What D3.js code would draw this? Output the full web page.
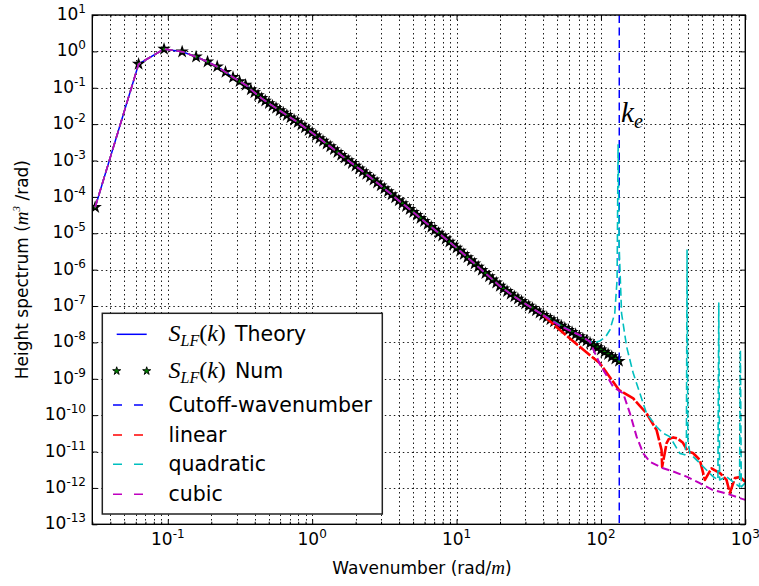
<!DOCTYPE html>
<html><head><meta charset="utf-8">
<script src="https://cdn.jsdelivr.net/npm/d3@7"></script>
<style>
  body { margin: 0; background: #fff; }
  text { font-family: "DejaVu Sans", sans-serif; fill: #000; }
  .math { font-family: "Liberation Serif", "DejaVu Serif", serif; font-style: italic; }
</style>
</head><body>
<svg id="chart" width="759" height="586"></svg>
<script>
// ---------- axis ticks ----------
const xTickValues = [0.1, 1, 10, 100, 1000];
const xTickExps = ["-1", "0", "1", "2", "3"];
const yTickValues = [1e1, 1e0, 1e-1, 1e-2, 1e-3, 1e-4, 1e-5, 1e-6, 1e-7, 1e-8, 1e-9, 1e-10, 1e-11, 1e-12, 1e-13];
const yTickExps = ["1", "0", "-1", "-2", "-3", "-4", "-5", "-6", "-7", "-8", "-9", "-10", "-11", "-12", "-13"];

// ---------- cutoff wavenumber ----------
const cutoffK = 134;

// ---------- theoretical spectrum S_LF(k) [k, S] ----------
const theory = [
  [0.0314, 5.2e-5], [0.0628, 0.45], [0.0942, 1.16], [0.1257, 0.98], [0.157, 0.71],
  [0.1885, 0.52], [0.22, 0.38], [0.251, 0.27], [0.283, 0.194], [0.314, 0.15],
  [0.346, 0.119], [0.398, 0.0741], [0.447, 0.0513], [0.501, 0.0372], [0.562, 0.0275],
  [0.631, 0.0204], [0.708, 0.0151], [0.794, 0.0112], [0.891, 0.00804], [1.0, 0.00575],
  [1.122, 0.00407], [1.259, 0.00288], [1.413, 0.00202], [1.585, 0.00141], [1.778, 0.001],
  [1.995, 7.08e-4], [2.512, 3.55e-4], [3.162, 1.70e-4], [3.981, 7.94e-5], [5.012, 3.80e-5],
  [6.31, 1.78e-5], [7.943, 8.51e-6], [10, 3.98e-6], [12.59, 1.78e-6], [15.85, 7.94e-7],
  [19.95, 3.55e-7], [25.12, 1.82e-7], [31.62, 1.0e-7], [39.81, 5.62e-8], [50.12, 3.24e-8],
  [63.1, 1.91e-8], [79.43, 1.10e-8], [100, 6.31e-9], [125.9, 3.55e-9], [133.4, 3.05e-9]
];

// ---------- numerical spectrum (star markers) [k, S] ----------
const numerical = [
  [0.0314, 5.2e-5], [0.0628, 0.45], [0.0942, 1.16], [0.1257, 0.98], [0.157, 0.71],
  [0.1885, 0.52], [0.22, 0.38], [0.251, 0.27], [0.283, 0.194], [0.314, 0.15], [0.346, 0.119],
  [0.376, 0.0887], [0.398, 0.0741], [0.422, 0.0617], [0.447, 0.0513], [0.473, 0.0437],
  [0.501, 0.0372], [0.531, 0.0320], [0.562, 0.0275], [0.596, 0.0237], [0.631, 0.0204],
  [0.668, 0.0176], [0.708, 0.0151], [0.750, 0.0130], [0.794, 0.0112], [0.841, 0.00955],
  [0.891, 0.00804], [0.944, 0.00676], [1.0, 0.00575], [1.059, 0.00484], [1.122, 0.00407],
  [1.189, 0.00343], [1.259, 0.00288], [1.334, 0.00242], [1.413, 0.00202], [1.496, 0.00169],
  [1.585, 0.00141], [1.679, 0.00119], [1.778, 0.00100], [1.884, 8.41e-4], [1.995, 7.08e-4],
  [2.113, 5.96e-4], [2.239, 5.01e-4], [2.371, 4.22e-4], [2.512, 3.55e-4], [2.661, 2.95e-4],
  [2.818, 2.45e-4], [2.985, 2.04e-4], [3.162, 1.70e-4], [3.350, 1.41e-4], [3.548, 1.16e-4],
  [3.758, 9.59e-5], [3.981, 7.94e-5], [4.217, 6.61e-5], [4.467, 5.50e-5], [4.732, 4.57e-5],
  [5.012, 3.80e-5], [5.309, 3.15e-5], [5.623, 2.60e-5], [5.957, 2.15e-5], [6.310, 1.78e-5],
  [6.683, 1.48e-5], [7.079, 1.23e-5], [7.499, 1.02e-5], [7.943, 8.51e-6], [8.414, 7.05e-6],
  [8.913, 5.82e-6], [9.441, 4.81e-6], [10.0, 3.98e-6], [10.59, 3.26e-6], [11.22, 2.66e-6],
  [11.89, 2.18e-6], [12.59, 1.78e-6], [13.34, 1.46e-6], [14.13, 1.19e-6], [14.96, 9.72e-7],
  [15.85, 7.94e-7], [16.79, 6.50e-7], [17.78, 5.31e-7], [18.84, 4.35e-7], [19.95, 3.55e-7],
  [21.13, 3.01e-7], [22.39, 2.54e-7], [23.71, 2.15e-7], [25.12, 1.82e-7], [26.61, 1.57e-7],
  [28.18, 1.35e-7], [29.85, 1.16e-7], [31.62, 1.00e-7], [33.50, 8.67e-8], [35.48, 7.50e-8],
  [37.58, 6.49e-8], [39.81, 5.62e-8], [42.17, 4.90e-8], [44.67, 4.27e-8], [47.32, 3.72e-8],
  [50.12, 3.24e-8], [53.09, 2.84e-8], [56.23, 2.48e-8], [59.57, 2.18e-8], [63.10, 1.91e-8],
  [66.83, 1.66e-8], [70.79, 1.45e-8], [74.99, 1.26e-8], [79.43, 1.10e-8], [84.14, 9.55e-9],
  [89.13, 8.32e-9], [94.41, 7.24e-9], [100.0, 6.31e-9], [105.9, 5.47e-9], [112.2, 4.73e-9],
  [118.9, 4.09e-9], [125.9, 3.55e-9], [133.4, 3.05e-9]
];

// ---------- interpolated spectra: the part that departs from theory [k, S] ----------
const sharedUpTo = 39.81;   // below this all three schemes lie on the theory curve
const linearTail = [
  [52.0, 2.19e-8], [71.4, 7.59e-9], [98.4, 2.67e-9], [133.4, 4.90e-10], [167.5, 2.88e-10],
  [207, 1.12e-10], [243, 3.89e-11], [263, 1.10e-11], [265.5, 3.80e-12], [285, 1.70e-11],
  [295, 2.19e-11], [317, 2.45e-11], [339, 2.29e-11], [370, 1.74e-11], [400, 1.0e-11],
  [434, 9.12e-12], [484, 5.89e-12], [525, 1.66e-12], [583, 3.47e-12], [667, 2.57e-12],
  [741, 1.66e-12], [782, 7.24e-13], [847, 1.86e-12], [916, 2.0e-12], [1000, 1.48e-12]
];
const quadraticTail = [
  [52.0, 3.0e-8], [71.4, 1.55e-8], [83.8, 1.05e-8], [92.0, 1.0e-8], [98.4, 1.1e-8],
  [108.1, 1.45e-8], [115.3, 2.19e-8], [124.7, 6.31e-8], [129.4, 5.25e-7], [131.5, 2.69e-3],
  [134.0, 3.47e-6], [139.0, 6.31e-8], [150.7, 7.59e-9], [167.5, 1.41e-9], [207, 1.12e-10],
  [243, 4.79e-11], [270, 3.16e-11], [300, 2.57e-11], [352, 8.91e-12], [381, 8.13e-12],
  [391, 2.09e-11], [395, 3.47e-6], [400, 2.09e-11], [413, 8.91e-12], [484, 4.79e-12],
  [598, 2.04e-12], [646, 1.66e-12], [655, 1.20e-7], [664, 1.66e-12], [741, 2.04e-12],
  [912, 1.07e-12], [925, 6.17e-9], [938, 1.07e-12], [1000, 1.38e-12]
];
const cubicTail = [
  [52.0, 2.82e-8], [71.4, 1.58e-8], [83.8, 1.05e-8], [98.4, 2.51e-9], [121.6, 6.03e-10],
  [142.6, 3.98e-10], [158.9, 1.12e-10], [176.6, 2.57e-11], [196.3, 8.91e-12], [218.3, 5.25e-12],
  [270, 3.47e-12], [317, 2.82e-12], [392, 2.04e-12], [484, 1.35e-12], [598, 8.71e-13],
  [741, 7.08e-13], [916, 5.25e-13], [1000, 4.68e-13]
];

// ---------- layout ----------
const plot = { l: 92.3, t: 15, r: 745.3, b: 524.3 };
const svg = d3.select("#chart");

const x = d3.scaleLog().domain([0.03, 1000]).range([plot.l, plot.r]);
const y = d3.scaleLog().domain([1e-13, 10]).range([plot.b, plot.t]);

svg.append("rect").attr("width", 759).attr("height", 586).attr("fill", "#fff");

svg.append("defs").append("clipPath").attr("id", "plotClip")
  .append("rect").attr("x", plot.l).attr("y", plot.t)
  .attr("width", plot.r - plot.l).attr("height", plot.b - plot.t);

// ---------- grid ----------
const allX = x.ticks().filter(v => v >= 0.03 && v <= 1000);
const majorX = xTickValues;
const minorX = allX.filter(v => Math.abs(Math.log10(v) - Math.round(Math.log10(v))) > 1e-6);

const grid = svg.append("g").attr("stroke", "#000").attr("stroke-width", 0.9)
  .attr("stroke-dasharray", "1.5,3").attr("fill", "none");
grid.selectAll("line.gx").data(allX).join("line")
  .attr("x1", d => Math.round(x(d)) + 0.5).attr("x2", d => Math.round(x(d)) + 0.5)
  .attr("y1", plot.t).attr("y2", plot.b);
grid.selectAll("line.gy").data(yTickValues).join("line")
  .attr("y1", d => Math.round(y(d)) + 0.5).attr("y2", d => Math.round(y(d)) + 0.5)
  .attr("x1", plot.l).attr("x2", plot.r);

// ---------- series ----------
const line = d3.line().x(d => x(d[0])).y(d => y(d[1]));
const series = svg.append("g").attr("clip-path", "url(#plotClip)");

const head = theory.filter(d => d[0] <= sharedUpTo);

series.append("path").datum(theory).attr("d", line)
  .attr("fill", "none").attr("stroke", "#0000ff").attr("stroke-width", 1.5);

const star = d3.symbol().type(d3.symbolStar).size(24);
series.append("g").selectAll("path").data(numerical).join("path")
  .attr("transform", d => `translate(${x(d[0])},${y(d[1])})`)
  .attr("d", star).attr("fill", "#008000").attr("stroke", "#000").attr("stroke-width", 1.5);

series.append("line")
  .attr("x1", x(cutoffK)).attr("x2", x(cutoffK)).attr("y1", plot.t).attr("y2", plot.b)
  .attr("stroke", "#0000ff").attr("stroke-width", 1.5).attr("stroke-dasharray", "8,4.5");

// the three schemes share the low-k part; the noisy linear tail reads as nearly solid
const schemes = [
  { tail: linearTail, color: "#ff0000", width: 2.6, tailDash: "14,2" },
  { tail: quadraticTail, color: "#00bfbf", width: 1.6, tailDash: "8,4" },
  { tail: cubicTail, color: "#bf00bf", width: 2, tailDash: "8,4" }
];
schemes.forEach(s => {
  series.append("path").datum(head).attr("d", line)
    .attr("fill", "none").attr("stroke", s.color).attr("stroke-width", 1.6)
    .attr("stroke-dasharray", "8,4");
  series.append("path").datum([head[head.length - 1]].concat(s.tail)).attr("d", line)
    .attr("fill", "none").attr("stroke", s.color).attr("stroke-width", s.width)
    .attr("stroke-dasharray", s.tailDash).attr("stroke-linejoin", "round");
});

// ---------- frame and ticks ----------
const axes = svg.append("g");
function tickAxis(axisFn, transform, values, size) {
  const g = axes.append("g").attr("transform", transform)
    .call(axisFn.tickValues(values).tickSize(-size).tickSizeOuter(0).tickFormat(() => ""));
  g.select(".domain").remove();
  g.selectAll("line").attr("stroke", "#000").attr("stroke-width", 1);
}
tickAxis(d3.axisBottom(x), `translate(0,${plot.b})`, majorX, 5);
tickAxis(d3.axisBottom(x), `translate(0,${plot.b})`, minorX, 2.5);
tickAxis(d3.axisTop(x), `translate(0,${plot.t})`, majorX, 5);
tickAxis(d3.axisTop(x), `translate(0,${plot.t})`, minorX, 2.5);
tickAxis(d3.axisLeft(y), `translate(${plot.l},0)`, yTickValues, 5);
tickAxis(d3.axisRight(y), `translate(${plot.r},0)`, yTickValues, 5);

axes.append("rect").attr("x", plot.l).attr("y", plot.t)
  .attr("width", plot.r - plot.l).attr("height", plot.b - plot.t)
  .attr("fill", "none").attr("stroke", "#000").attr("stroke-width", 1.4);

// ---------- tick labels ----------
xTickValues.forEach((v, i) => {
  const t = svg.append("text").attr("x", x(v)).attr("y", 545)
    .attr("text-anchor", "middle").attr("font-size", 17);
  t.append("tspan").text("10");
  t.append("tspan").attr("font-size", 12).attr("dy", -7).text(xTickExps[i]);
});
yTickValues.forEach((v, i) => {
  const t = svg.append("text").attr("x", 86).attr("y", y(v) + 5)
    .attr("text-anchor", "end").attr("font-size", 17);
  t.append("tspan").text("10");
  t.append("tspan").attr("font-size", 12).attr("dy", -7).text(yTickExps[i]);
});

// ---------- axis titles ----------
const xl = svg.append("text").attr("x", 422).attr("y", 574)
  .attr("text-anchor", "middle").attr("font-size", 17);
xl.append("tspan").text("Wavenumber (rad/");
xl.append("tspan").attr("class", "math").attr("font-size", 19).text("m");
xl.append("tspan").text(")");

const yl = svg.append("text").attr("transform", `translate(28,${(plot.t + plot.b) / 2}) rotate(-90)`)
  .attr("text-anchor", "middle").attr("font-size", 17);
yl.append("tspan").text("Height spectrum (");
yl.append("tspan").attr("class", "math").attr("font-size", 19).text("m");
yl.append("tspan").attr("class", "math").attr("font-size", 11).attr("dy", -8).text("3");
yl.append("tspan").attr("dy", 8).text(" /rad)");

// ---------- cutoff annotation ----------
const ke = svg.append("text").attr("x", 621).attr("y", 122).attr("class", "math").attr("font-size", 29);
ke.append("tspan").text("k");
ke.append("tspan").attr("font-size", 20).attr("dy", 6).text("e");

// ---------- legend ----------
const legend = svg.append("g");
legend.append("rect").attr("x", 102.3).attr("y", 313.3).attr("width", 280).attr("height", 200.7)
  .attr("fill", "#fff").attr("stroke", "#222").attr("stroke-width", 1.5);

const legendRows = [
  { y: 334.3, type: "solid", color: "#0000ff", math: true, label: "Theory" },
  { y: 371, type: "star", math: true, label: "Num" },
  { y: 405, type: "dash", color: "#0000ff", label: "Cutoff-wavenumber" },
  { y: 435, type: "dash", color: "#ff0000", label: "linear" },
  { y: 464.3, type: "dash", color: "#00bfbf", label: "quadratic" },
  { y: 494.3, type: "dash", color: "#bf00bf", label: "cubic" }
];
legendRows.forEach(r => {
  if (r.type === "solid") {
    legend.append("line").attr("x1", 116.7).attr("x2", 146.7).attr("y1", r.y).attr("y2", r.y)
      .attr("stroke", r.color).attr("stroke-width", 1.5);
  } else if (r.type === "dash") {
    legend.append("line").attr("x1", 113).attr("x2", 146.7).attr("y1", r.y).attr("y2", r.y)
      .attr("stroke", r.color).attr("stroke-width", 1.5).attr("stroke-dasharray", "9,12");
  } else {
    [116.7, 146.7].forEach(cx => legend.append("path")
      .attr("transform", `translate(${cx},${r.y})`).attr("d", d3.symbol().type(d3.symbolStar).size(20))
      .attr("fill", "#008000").attr("stroke", "#000").attr("stroke-width", 0.9));
  }
  const t = legend.append("text").attr("x", 168.5).attr("y", r.y + 7).attr("font-size", 20.5);
  if (r.math) {
    t.append("tspan").attr("class", "math").attr("font-size", 24).text("S");
    t.append("tspan").attr("class", "math").attr("font-size", 16).attr("dy", 5).text("LF");
    t.append("tspan").attr("font-family", "Liberation Serif").attr("font-size", 24).attr("dy", -5).text("(");
    t.append("tspan").attr("class", "math").attr("font-size", 24).text("k");
    t.append("tspan").attr("font-family", "Liberation Serif").attr("font-size", 24).text(")");
    t.append("tspan").attr("x", 235).text(r.label);
  } else {
    t.text(r.label);
  }
});
</script>
</body></html>
